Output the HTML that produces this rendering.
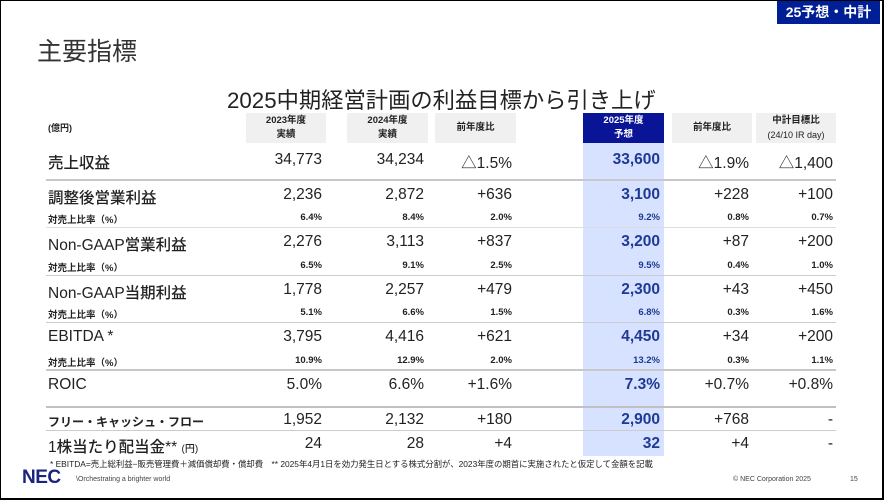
<!DOCTYPE html>
<html><head><meta charset="utf-8"><style>
*{margin:0;padding:0;box-sizing:border-box}
body{width:884px;height:500px;background:#fff;position:relative;overflow:hidden;font-family:"Liberation Sans","Noto Sans CJK JP",sans-serif;color:#222}
.a{position:absolute;white-space:nowrap}
.frame{position:absolute;left:0;top:0;width:884px;height:500px;border-top:1px solid #000;border-right:2px solid #000;border-bottom:2px solid #000;border-left:1px solid #000;pointer-events:none}
.hd{position:absolute;top:113px;height:30px;background:#f0f0f0;font-size:9.5px;font-weight:bold;text-align:center;line-height:14px;padding-top:1px;color:#222}
.r{position:absolute;left:0;width:884px}
.r span{position:absolute;white-space:nowrap}
.big span{font-size:15.5px}
.sm span{font-size:9.5px;font-weight:bold}
.c1{right:562px}.c2{right:460px}.c3{right:372px}.c4{right:224px;color:#1f3a93;font-weight:bold}.c5{right:135px}.c6{right:51px}
.lb{left:48px}
.big .lb{font-weight:500}
.ln{position:absolute;left:46px;width:790px}
</style></head><body>
<div class="a" style="left:777px;top:1px;width:103px;height:23px;background:#001e96;color:#fff;font-weight:bold;font-size:14px;line-height:23px;text-align:center">25予想・中計</div>
<div class="a" style="left:37px;top:32px;font-size:25px;color:#333">主要指標</div>
<div class="a" style="left:227px;top:83px;font-size:22.3px;color:#222">2025中期経営計画の利益目標から引き上げ</div>

<div class="a" style="left:583px;top:142px;width:81px;height:314px;background:#d6e2ff"></div>
<div class="a" style="left:48px;top:121px;font-size:9px;font-weight:bold">(億円)</div>
<div class="hd" style="left:246px;width:80px">2023年度<br>実績</div>
<div class="hd" style="left:347px;width:81px">2024年度<br>実績</div>
<div class="hd" style="left:435px;width:81px;line-height:28px">前年度比</div>
<div class="hd" style="left:583px;width:81px;background:#0a1496;color:#fff">2025年度<br>予想</div>
<div class="hd" style="left:672px;width:80px;line-height:28px">前年度比</div>
<div class="hd" style="left:756px;width:80px">中計目標比<br><span style="font-weight:normal;font-size:9px">(24/10 IR day)</span></div>

<div class="r big" style="top:151px"><span class="lb">売上収益</span><span class="c1">34,773</span><span class="c2">34,234</span><span class="c3">△1.5%</span><span class="c4">33,600</span><span class="c5">△1.9%</span><span class="c6">△1,400</span></div>
<div class="ln" style="top:179px;height:2px;background:#c8c8c8"></div>
<div class="r big" style="top:186px"><span class="lb">調整後営業利益</span><span class="c1">2,236</span><span class="c2">2,872</span><span class="c3">+636</span><span class="c4">3,100</span><span class="c5">+228</span><span class="c6">+100</span></div>
<div class="r sm" style="top:212px"><span class="lb">対売上比率（%）</span><span class="c1">6.4%</span><span class="c2">8.4%</span><span class="c3">2.0%</span><span class="c4">9.2%</span><span class="c5">0.8%</span><span class="c6">0.7%</span></div>
<div class="ln" style="top:227px;height:1px;background:#ddd"></div>
<div class="r big" style="top:233px"><span class="lb">Non-GAAP営業利益</span><span class="c1">2,276</span><span class="c2">3,113</span><span class="c3">+837</span><span class="c4">3,200</span><span class="c5">+87</span><span class="c6">+200</span></div>
<div class="r sm" style="top:260px"><span class="lb">対売上比率（%）</span><span class="c1">6.5%</span><span class="c2">9.1%</span><span class="c3">2.5%</span><span class="c4">9.5%</span><span class="c5">0.4%</span><span class="c6">1.0%</span></div>
<div class="ln" style="top:275px;height:1px;background:#ccc"></div>
<div class="r big" style="top:281px"><span class="lb">Non-GAAP当期利益</span><span class="c1">1,778</span><span class="c2">2,257</span><span class="c3">+479</span><span class="c4">2,300</span><span class="c5">+43</span><span class="c6">+450</span></div>
<div class="r sm" style="top:307px"><span class="lb">対売上比率（%）</span><span class="c1">5.1%</span><span class="c2">6.6%</span><span class="c3">1.5%</span><span class="c4">6.8%</span><span class="c5">0.3%</span><span class="c6">1.6%</span></div>
<div class="ln" style="top:322px;height:1px;background:#ccc"></div>
<div class="r big" style="top:328px"><span class="lb">EBITDA *</span><span class="c1">3,795</span><span class="c2">4,416</span><span class="c3">+621</span><span class="c4">4,450</span><span class="c5">+34</span><span class="c6">+200</span></div>
<div class="r sm" style="top:355px"><span class="lb">対売上比率（%）</span><span class="c1">10.9%</span><span class="c2">12.9%</span><span class="c3">2.0%</span><span class="c4">13.2%</span><span class="c5">0.3%</span><span class="c6">1.1%</span></div>
<div class="ln" style="top:369px;height:2px;background:#c8c8c8"></div>
<div class="r big" style="top:376px"><span class="lb">ROIC</span><span class="c1">5.0%</span><span class="c2">6.6%</span><span class="c3">+1.6%</span><span class="c4">7.3%</span><span class="c5">+0.7%</span><span class="c6">+0.8%</span></div>
<div class="ln" style="top:406px;height:2px;background:#c0c0c0"></div>
<div class="r big" style="top:411px"><span class="lb" style="font-size:12px;font-weight:bold;top:2px">フリー・キャッシュ・フロー</span><span class="c1">1,952</span><span class="c2">2,132</span><span class="c3">+180</span><span class="c4">2,900</span><span class="c5">+768</span><span class="c6">-</span></div>
<div class="ln" style="top:430px;height:1px;background:#ccc"></div>
<div class="r big" style="top:435px"><span class="lb">1株当たり配当金** <small style="font-size:10px">(円)</small></span><span class="c1">24</span><span class="c2">28</span><span class="c3">+4</span><span class="c4">32</span><span class="c5">+4</span><span class="c6">-</span></div>

<div class="a" style="left:50px;top:458px;font-size:8.4px">* EBITDA=売上総利益−販売管理費＋減価償却費・償却費　** 2025年4月1日を効力発生日とする株式分割が、2023年度の期首に実施されたと仮定して金額を記載</div>
<div class="a" style="left:22px;top:467px;font-size:19px;font-weight:bold;color:#1a237e;letter-spacing:-0.5px">NEC</div>
<div class="a" style="left:76px;top:476px;font-size:7px;color:#444">\Orchestrating a brighter world</div>
<div class="a" style="left:733px;top:476px;font-size:7px;color:#444">© NEC Corporation 2025</div>
<div class="a" style="left:850px;top:476px;font-size:7px;color:#444">15</div>
<div class="frame"></div>
</body></html>
